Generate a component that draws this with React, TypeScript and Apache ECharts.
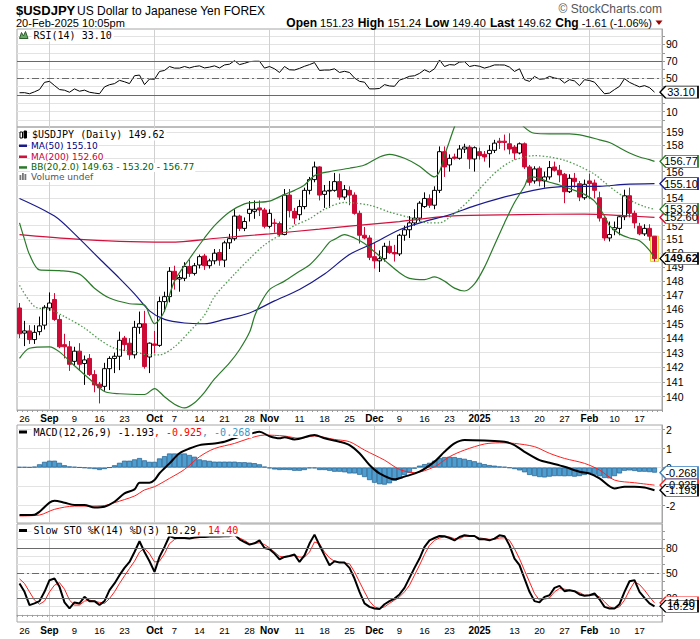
import React, { useEffect, useRef } from 'react';
import * as echarts from 'echarts';

// ---------- calendar ----------
const FIRST_DAY = '2024-08-23';
const LAST_DAY = '2025-02-20';
const HOLIDAYS = ['2024-12-25', '2025-01-01'];

// ---------- daily OHLC (USD/JPY) ----------
const opens = [146.1,144.35,144.5,143.9,144.45,144.9,146.1,146.7,145.3,143.55,143.4,142.4,143.1,142.25,142.6,141.5,140.85,140.7,141.9,142.6,142.75,144.0,143.65,142.85,144.75,145.0,142.7,143.6,143.5,146.55,146.9,148.7,148.15,148.2,149.05,148.55,149.15,149.8,149.1,149.45,150.05,149.5,150.75,151.05,152.7,151.8,152.9,153.05,153.3,153.15,151.95,152.2,152.15,151.35,154.25,153.05,152.8,153.4,154.6,155.4,156.35,154.3,154.55,154.6,155.25,154.1,154.6,154.25,152.9,151.3,151.1,149.75,149.45,149.6,150.5,150.05,149.95,151.3,151.7,152.2,152.55,153.4,154.0,153.5,154.6,157.5,156.5,157.1,157.0,157.7,157.85,156.95,157.5,157.3,157.35,157.6,158.3,158.3,158.1,157.85,157.4,158.1,156.35,155.3,156.25,155.3,155.6,156.35,156.1,155.8,154.5,155.5,155.1,154.05,155.3,155.15,154.05,152.55,151.1,151.7,151.8,152.65,154.2,152.9,151.95,151.4,151.8,151.23];
const highs = [146.45,145.2,144.9,144.9,145.5,146.3,147.2,147.15,145.6,144.3,143.8,143.4,143.65,142.8,142.9,141.8,141.0,142.3,142.75,143.0,144.45,144.15,144.0,145.2,145.85,145.9,143.7,144.5,146.9,147.25,149.0,149.1,148.45,149.35,149.55,149.3,149.9,149.95,149.6,150.3,150.3,150.9,151.4,153.2,152.8,152.6,153.8,153.85,153.85,153.3,153.2,152.5,152.3,154.7,154.7,153.3,153.9,154.8,155.6,156.75,156.4,155.0,155.3,155.9,155.85,155.0,154.9,154.45,153.1,151.9,151.3,150.75,150.2,150.75,150.9,150.6,151.4,152.0,152.7,153.2,153.8,154.45,154.3,154.9,157.9,157.9,157.3,157.35,158.0,158.1,158.0,157.9,157.8,157.55,158.0,158.4,158.55,158.8,158.9,158.0,158.2,158.2,156.5,156.4,156.4,156.0,156.8,156.75,156.5,155.9,155.8,155.9,155.3,155.4,155.85,155.4,154.5,152.6,152.3,152.3,152.7,154.65,154.8,153.1,152.2,152.1,152.1,151.24];
const lows = [144.0,143.45,143.6,143.6,144.2,144.6,145.9,145.2,143.3,142.6,141.75,142.1,141.75,140.8,141.4,140.3,139.55,140.4,140.45,141.6,141.8,143.1,142.5,142.6,144.3,141.9,141.6,142.95,143.4,145.85,146.5,147.4,147.25,148.0,148.3,148.4,148.9,148.8,148.9,149.2,149.1,149.0,150.3,150.9,151.6,151.6,152.3,152.5,152.7,151.8,151.8,151.5,151.2,151.3,152.6,152.1,152.4,153.2,154.3,155.2,153.85,153.3,153.3,154.5,153.9,153.9,153.5,152.8,150.7,151.0,149.5,148.9,148.65,149.4,149.95,149.4,149.8,150.9,151.1,152.0,152.3,153.3,153.3,153.2,154.4,155.6,156.0,156.9,156.9,157.4,156.2,156.0,156.9,156.75,156.3,157.4,157.7,157.6,157.3,156.9,157.3,156.2,154.95,155.1,154.9,154.8,155.4,156.0,155.2,153.65,154.4,154.8,153.8,153.9,153.95,154.0,152.3,150.9,150.85,151.3,151.3,152.4,152.6,151.8,151.3,151.25,150.9,149.40];
const closes = [144.3,144.5,143.9,144.4,144.85,146.15,146.45,145.3,143.4,143.4,142.2,143.1,142.2,142.5,141.5,140.8,140.6,141.9,142.6,142.75,143.85,143.55,142.85,144.75,145.0,142.05,143.65,143.5,146.55,146.9,148.7,148.1,148.25,149.05,148.55,149.1,149.75,149.1,149.45,150.0,149.5,150.75,151.05,152.7,151.8,152.3,153.2,153.2,153.15,151.95,152.9,152.15,151.35,154.25,153.1,152.55,153.4,154.6,155.4,156.35,154.25,154.55,154.6,155.25,154.1,154.65,154.25,152.9,151.3,151.1,149.7,149.45,149.6,150.5,150.05,149.95,151.3,151.7,152.2,152.55,153.65,154.0,153.5,154.6,157.5,156.35,157.0,157.0,157.7,157.85,156.95,157.8,157.2,157.1,157.6,158.15,158.2,158.2,157.7,157.4,158.1,156.35,155.2,156.2,155.3,155.6,156.3,156.1,155.75,154.5,155.5,155.25,154.1,155.05,155.1,154.6,152.55,151.1,151.35,151.85,152.65,154.2,152.9,152.2,151.4,151.8,151.23,149.62];

// ---------- overlays, read as [dayIndex, value] ----------
const ma50Pts = [[0,154.0],[7,152.7],[11,151.4],[16,149.6],[20,148.2],[23,147.1],[26,145.9],[29,145.3],[33,145.05],[37,145.0],[41,145.3],[46,145.75],[51,146.6],[56,147.4],[61,148.5],[66,149.9],[71,150.75],[76,151.7],[81,152.3],[86,152.8],[91,153.45],[96,154.0],[101,154.45],[106,154.8],[111,154.9],[116,154.9],[121,155.05],[127,155.1]];
const ma200Pts = [[0,151.35],[10,151.05],[20,150.85],[30,150.8],[40,151.1],[50,151.4],[60,151.75],[66,151.97],[76,152.3],[86,152.7],[100,152.8],[113,152.85],[120,152.75],[127,152.6]];
const bbUpperPts = [[0,152.2],[1,151.0],[2,149.9],[4,148.8],[8,148.75],[12,148.5],[15,147.5],[18,146.8],[22,146.4],[25,146.3],[26,145.6],[27,145.0],[28,145.3],[29,145.9],[31,148.0],[34,149.6],[37,151.1],[39,152.0],[42,153.0],[45,153.6],[47,153.7],[50,153.8],[53,154.3],[55,154.6],[57,155.0],[59,155.7],[62,156.0],[66,156.25],[69,156.5],[72,157.1],[74,157.3],[77,157.0],[80,156.4],[82,155.8],[83,155.6],[84,156.0],[85,157.2],[86,158.3],[87,159.4],[88,160.3],[90,161.3],[93,161.8],[96,161.5],[99,160.3],[101,159.35],[103,158.9],[106,158.85],[110,158.85],[113,158.7],[116,158.4],[118,158.2],[120,157.8],[122,157.4],[124,157.1],[126,156.9],[127,156.77]];
const bbMidPts = [[0,147.7],[3,146.2],[6,146.0],[9,145.5],[13,144.7],[16,143.9],[19,143.3],[23,143.05],[26,142.85],[28,142.85],[31,143.4],[34,144.45],[37,145.6],[39,146.9],[43,148.5],[46,149.6],[49,150.6],[52,151.3],[55,152.0],[58,152.5],[61,153.2],[65,153.7],[70,153.5],[74,153.0],[78,152.6],[82,152.2],[84,152.2],[86,152.6],[88,153.2],[90,153.9],[92,154.7],[94,155.5],[96,156.2],[98,156.7],[100,157.0],[103,157.2],[106,157.1],[109,156.85],[112,156.4],[115,155.8],[117,155.2],[119,154.6],[121,154.1],[123,153.7],[125,153.4],[127,153.2]];
const bbLowerPts = [[0,142.6],[2,143.3],[6,143.4],[8,143.05],[11,142.1],[14,141.2],[17,140.35],[20,140.2],[25,140.15],[27,140.55],[29,140.0],[31,139.5],[33,139.25],[35,139.6],[37,140.3],[39,141.2],[42,142.3],[44,143.2],[46,144.4],[47,145.5],[48,146.3],[50,147.4],[53,148.0],[56,148.7],[58,149.15],[60,149.9],[62,150.8],[63,151.0],[65,151.35],[67,151.1],[69,150.7],[71,150.1],[73,149.5],[76,148.6],[78,148.2],[81,148.1],[83,148.3],[85,148.0],[87,147.5],[89,147.3],[91,147.8],[93,149.0],[95,150.6],[97,152.2],[99,153.7],[101,154.9],[102,155.6],[104,155.5],[106,155.2],[108,155.0],[111,154.6],[113,154.3],[115,153.8],[117,152.7],[118,152.0],[120,151.4],[122,151.1],[124,150.9],[126,150.2],[127,149.63]];

// ---------- indicators ----------
const rsi14 = [32.4,32.5,31.2,33.5,36.2,44.8,46.0,41.0,36.2,35.4,33.0,37.0,34.2,35.5,33.0,32.0,31.2,39.4,42.0,43.3,47.2,45.5,43.3,52.7,53.5,42.1,48.8,48.5,57.8,59.0,63.7,61.8,61.8,63.7,62.0,63.7,64.5,62.0,63.0,64.5,62.0,65.6,66.5,70.7,66.0,67.5,69.5,70.0,70.0,61.8,63.7,61.0,56.6,63.7,59.8,59.5,61.5,64.0,66.0,68.4,59.0,59.5,59.5,61.0,56.6,58.0,56.6,50.0,46.0,45.0,37.0,37.0,37.5,42.1,40.5,40.1,47.5,49.5,52.0,52.7,55.5,59.8,57.0,61.0,71.5,63.7,66.0,65.5,69.0,69.5,63.7,65.0,64.0,61.8,63.5,65.6,65.6,65.5,63.0,57.8,61.0,48.0,46.0,51.9,48.5,49.0,51.9,50.0,49.0,44.1,48.0,46.5,40.9,48.0,47.0,45.0,38.0,31.2,32.0,36.2,40.0,49.2,44.8,42.0,39.4,40.9,38.5,33.1];
const macdPts = [[0,-2.5],[3,-2.48],[4,-2.33],[6,-1.85],[7,-1.75],[9,-1.85],[11,-1.97],[13,-1.97],[15,-2.1],[17,-2.06],[19,-1.8],[21,-1.36],[23,-1.15],[24,-0.8],[26,-0.8],[27,-0.66],[28,-0.3],[30,0.22],[32,0.75],[34,1.0],[36,1.18],[39,1.27],[41,1.36],[43,1.54],[46,1.76],[48,1.88],[50,1.65],[52,1.54],[53,1.6],[55,1.48],[59,1.71],[61,1.54],[64,1.36],[66,1.18],[68,0.75],[70,0.13],[72,-0.31],[75,-0.62],[77,-0.48],[80,-0.22],[83,0.31],[85,0.83],[87,1.27],[89,1.45],[93,1.42],[97,1.36],[99,1.18],[101,0.83],[104,0.39],[106,0.25],[109,0.04],[112,-0.22],[114,-0.31],[116,-0.57],[119,-1.1],[121,-1.01],[123,-1.01],[125,-1.05],[127,-1.193]];
const signalPts = [[0,-2.55],[4,-2.5],[7,-2.2],[11,-2.03],[14,-2.03],[17,-2.0],[19,-1.85],[23,-1.5],[25,-1.18],[27,-1.01],[30,-0.57],[33,-0.1],[36,0.57],[39,1.0],[43,1.27],[46,1.54],[49,1.71],[53,1.66],[56,1.54],[59,1.66],[63,1.48],[66,1.36],[69,0.92],[73,0.39],[76,-0.1],[79,-0.27],[83,0.04],[86,0.57],[89,0.92],[93,1.24],[96,1.3],[99,1.27],[103,1.1],[106,0.75],[109,0.48],[113,0.22],[116,-0.13],[119,-0.66],[123,-0.8],[127,-0.925]];
const macdHist = [0.03,0.03,0.02,0.05,0.17,0.30,0.36,0.36,0.25,0.12,0.06,0.04,0.01,-0.02,-0.05,-0.08,-0.13,-0.08,0.00,0.12,0.25,0.36,0.36,0.43,0.50,0.38,0.30,0.30,0.48,0.60,0.74,0.74,0.74,0.74,0.66,0.57,0.43,0.38,0.35,0.31,0.31,0.31,0.31,0.31,0.28,0.28,0.26,0.23,0.17,0.05,-0.04,-0.10,-0.13,-0.12,-0.13,-0.17,-0.17,-0.13,-0.04,-0.04,-0.13,-0.13,-0.17,-0.22,-0.22,-0.25,-0.31,-0.31,-0.38,-0.50,-0.66,-0.80,-0.88,-0.90,-0.83,-0.70,-0.55,-0.40,-0.28,-0.06,0.10,0.18,0.25,0.36,0.50,0.55,0.57,0.55,0.50,0.46,0.39,0.33,0.25,0.18,0.13,0.10,0.06,0.04,-0.02,-0.08,-0.15,-0.25,-0.39,-0.45,-0.50,-0.52,-0.48,-0.45,-0.45,-0.46,-0.45,-0.48,-0.45,-0.39,-0.31,-0.38,-0.46,-0.55,-0.57,-0.45,-0.31,-0.17,-0.15,-0.18,-0.22,-0.22,-0.24,-0.268];
const stoK = [37.5,27.5,11.7,13.7,16.4,27.5,41.4,43.4,33.5,14.9,7.7,14.9,13.7,21.5,16.4,16.4,11.7,16.4,29.5,37.5,47.4,56.1,63.2,75.1,87.9,75.1,64.0,51.3,69.2,81.1,94.2,91.8,91.8,91.8,91.3,92.5,93.0,93.0,93.5,93.5,93.5,94.0,94.0,95.8,90.2,87.0,83.9,85.5,89.0,79.9,78.3,73.2,66.4,69.2,70.4,72.0,63.2,71.0,85.1,95.8,83.1,71.0,59.3,64.0,62.4,62.4,56.1,43.4,27.5,13.7,9.6,7.7,6.9,12.7,16.4,19.5,24.4,32.3,44.2,56.1,67.2,81.1,89.0,91.8,94.2,93.8,91.8,89.0,93.0,95.0,94.2,94.2,90.2,90.2,89.0,91.0,95.0,94.0,83.0,67.2,59.3,43.4,27.5,16.4,14.9,21.5,23.4,32.3,34.6,28.3,29.5,28.3,24.4,22.9,23.4,25.5,18.7,9.6,7.7,7.7,12.7,27.5,40.2,41.4,27.5,20.3,13.7,10.29];
const stoD = [43.0,37.5,27.5,17.6,12.7,16.4,27.5,35.5,38.5,30.7,17.6,11.7,11.7,16.4,17.6,16.4,14.9,13.7,19.5,27.5,37.5,46.6,55.4,64.0,75.0,79.5,73.0,63.2,64.0,73.0,85.0,90.0,92.5,92.0,91.6,92.0,92.3,92.8,93.2,93.3,93.5,93.7,93.8,94.6,91.8,89.0,85.0,85.5,86.0,84.0,80.0,75.0,70.0,69.0,70.0,71.0,69.0,69.0,75.0,87.0,85.0,75.0,68.0,64.0,63.0,62.0,61.0,51.3,39.4,27.5,16.4,9.6,7.7,9.6,13.7,17.6,21.5,27.5,35.5,47.4,59.3,72.0,83.0,89.0,91.8,93.0,93.0,91.0,91.0,93.8,94.0,94.0,92.0,91.0,90.2,90.2,91.8,92.0,89.0,79.0,67.0,53.0,39.4,25.5,17.6,18.7,20.3,27.5,31.5,30.7,29.5,28.3,26.7,23.4,23.4,23.4,21.5,15.7,9.6,7.7,9.6,17.6,29.5,39.4,36.2,29.5,21.5,14.4];

// ---------- axis ticks ----------
const xTickDates = ['2024-08-26','2024-09-02','2024-09-09','2024-09-16','2024-09-23','2024-10-01','2024-10-07','2024-10-14','2024-10-21','2024-10-28','2024-11-01','2024-11-11','2024-11-18','2024-11-25','2024-12-02','2024-12-09','2024-12-16','2024-12-23','2025-01-02','2025-01-13','2025-01-20','2025-01-27','2025-02-03','2025-02-10','2025-02-17'];
const xTickTexts = ['26','Sep','9','16','23','Oct','7','14','21','28','Nov','11','18','25','Dec','9','16','23','2025','13','20','27','Feb','10','17'];
const boldTickTexts = ['Sep','Oct','Nov','Dec','2025','Feb'];
const monthStartDates = ['2024-09-02','2024-10-01','2024-11-01','2024-12-02','2025-01-02','2025-02-03'];
const priceTicks = [140,141,142,143,144,145,146,147,148,149,150,151,152,153,154,155,156,157,158,159];
// price labels the value tags cover (153, 155, 157) are not drawn
const priceLabels = [140,141,142,143,144,145,146,147,148,149,150,151,152,154,156,158,159];
const oscTicks = [0,10,20,30,40,50,60,70,80,90,100];
const rsiLabels = [10,50,70,90];
const stoLabels = [20,50,80];
const macdTicks = [-2,-1,0,1,2];
const macdLabels = [-2,0,1,2];

const ARIAL = '"Liberation Sans", Arial, sans-serif';
const MONO = '"DejaVu Sans Mono", monospace';
const VERD = '"DejaVu Sans", Verdana, sans-serif';

const C_UP_BORDER = '#000000';
const C_DOWN = '#cc0a35';
const C_MA50 = '#1a1a8c';
const C_MA200 = '#d1103c';
const C_BB = '#2a7a2a';
const C_BBMID = '#4f9a4f';
const C_HIST = '#4c9dd0';
const C_HIST_B = '#1f5f8f';
const C_GRID = '#e3e3e3';
const C_VGRID = '#d0d0d0';
const C_BORDER = '#a6a6a6';

function tradingDays(start: string, end: string): string[] {
  const out: string[] = [];
  const d = new Date(start + 'T00:00:00Z');
  const e = new Date(end + 'T00:00:00Z');
  while (d.getTime() <= e.getTime()) {
    const wd = d.getUTCDay();
    const s = d.toISOString().slice(0, 10);
    if (wd !== 0 && wd !== 6 && HOLIDAYS.indexOf(s) < 0) out.push(s);
    d.setUTCDate(d.getUTCDate() + 1);
  }
  return out;
}

const TAG_PATH = 'path://M0,6 L6,0 L40,0 L40,12 L6,12 Z';
function tag(i: number, v: number, text: string, border: string, bold = false) {
  return {
    silent: true,
    symbol: TAG_PATH,
    symbolSize: [38, 12],
    symbolOffset: [24.5, 0],
    symbolKeepAspect: false,
    itemStyle: { color: '#ffffff', borderColor: border, borderWidth: 1 },
    label: {
      show: true, position: 'inside', formatter: text, color: '#000',
      fontSize: 11, fontFamily: ARIAL, fontWeight: bold ? 'bold' : 'normal', offset: [2, 0],
    },
    data: [{ coord: [i, v] }],
  };
}

function lineSeries(gi: number, data: any[], color: string, width: number, extra: any = {}) {
  return {
    type: 'line', xAxisIndex: gi, yAxisIndex: gi, data, symbol: 'none', showSymbol: false,
    lineStyle: { color, width }, itemStyle: { color }, silent: true, ...extra,
  };
}

function buildOption() {
  const days = tradingDays(FIRST_DAY, LAST_DAY);
  const cats = [...days, ' '];
  const last = days.length - 1;
  const labelMap = new Map<string, string>();
  xTickDates.forEach((d, i) => labelMap.set(d, xTickTexts[i]));
  const monthSet = new Set(monthStartDates);
  const boldSet = new Set(boldTickTexts);

  const gridDefs = [
    { top: 29, height: 98 },
    { top: 127, height: 283 },
    { top: 425, height: 98 },
    { top: 524, height: 98 },
  ];
  const grid = gridDefs.map((g) => ({ left: 17, right: 38, ...g, show: true, borderColor: C_BORDER, borderWidth: 1 }));

  const xAxis = [0, 1, 2, 3].map((gi) => {
    const withLabels = gi === 1 || gi === 3;
    return {
      type: 'category', gridIndex: gi, data: cats, boundaryGap: true,
      axisLine: { show: withLabels, lineStyle: { color: C_BORDER } },
      axisTick: withLabels ? { show: true, interval: 0, length: 2, lineStyle: { color: '#9a9a9a' } } : { show: false },
      axisLabel: withLabels ? {
        show: true,
        interval: (_i: number, v: string) => labelMap.has(v),
        formatter: (v: string) => {
          const t = labelMap.get(v) || '';
          return boldSet.has(t) ? `{b|${t}}` : t;
        },
        fontSize: 9.5, fontFamily: ARIAL, color: '#000', margin: 3,
        rich: { b: { fontWeight: 'bold', fontSize: 10, fontFamily: ARIAL, color: '#000' } },
      } : { show: false },
      splitLine: {
        show: true, interval: (_i: number, v: string) => monthSet.has(v), alignWithLabel: true,
        lineStyle: { color: C_VGRID, width: 1 },
      },
    };
  });

  const yCommon = (gi: number, ticks: number[], labels: number[]) => ({
    gridIndex: gi, position: 'right', scale: false,
    axisLine: { show: true, lineStyle: { color: C_BORDER } },
    axisTick: { show: true, length: 3, customValues: ticks, lineStyle: { color: '#9a9a9a' } },
    axisLabel: { show: true, customValues: labels, fontSize: 10.5, fontFamily: ARIAL, color: '#000', margin: 4 },
    splitLine: { show: true, lineStyle: { color: C_GRID, width: 1 } },
  });

  const yAxis = [
    { type: 'value', min: -8.5, max: 108.5, ...yCommon(0, oscTicks, rsiLabels) },
    { type: 'log', logBase: 10, min: 139.11, max: 159.38, ...yCommon(1, priceTicks, priceLabels) },
    { type: 'value', min: -2.92, max: 2.24, ...yCommon(2, macdTicks, macdLabels) },
    { type: 'value', min: -8.5, max: 108.5, ...yCommon(3, oscTicks, stoLabels) },
  ];

  const ohlc = opens.map((o, i) => [o, closes[i], lows[i], highs[i]]);
  const highlight = opens.map((_o, i) => (i === last ? [highs[i], lows[i], lows[i], highs[i]] : ['-', '-', '-', '-']));
  const lastOf = (pts: number[][]) => pts[pts.length - 1][1];

  const refLines = (hi: number, lo: number) => ({
    silent: true, symbol: 'none', label: { show: false },
    lineStyle: { color: '#6a6a6a', width: 1, type: 'solid' },
    data: [
      { yAxis: hi },
      { yAxis: lo },
      { yAxis: 50, lineStyle: { color: '#6a6a6a', width: 1, type: [7, 3, 2, 3] } },
    ],
  });

  const series: any[] = [
    // RSI
    lineSeries(0, rsi14, '#000', 1, {
      markLine: refLines(70, 30),
      markPoint: tag(last, rsi14[last], rsi14[last].toFixed(2), '#000'),
    }),
    // price panel
    {
      type: 'candlestick', xAxisIndex: 1, yAxisIndex: 1, data: highlight, barWidth: 8, silent: true, z: 1,
      itemStyle: { color: '#ffff70', color0: '#ffff70', borderColor: '#e0d040', borderColor0: '#e0d040', borderWidth: 1 },
    },
    lineSeries(1, ma200Pts, C_MA200, 1.2, { smooth: 0.3, markPoint: tag(last, lastOf(ma200Pts), lastOf(ma200Pts).toFixed(2), C_MA200) }),
    lineSeries(1, ma50Pts, C_MA50, 1.2, { smooth: 0.3, markPoint: tag(last, lastOf(ma50Pts), lastOf(ma50Pts).toFixed(2), C_MA50) }),
    lineSeries(1, bbLowerPts, C_BB, 1.2, { smooth: 0.3 }),
    lineSeries(1, bbMidPts, C_BBMID, 1.3, { smooth: 0.3, lineStyle: { color: C_BBMID, width: 1.3, type: [1.5, 2] }, markPoint: tag(last, lastOf(bbMidPts), lastOf(bbMidPts).toFixed(2), C_BB) }),
    lineSeries(1, bbUpperPts, C_BB, 1.2, { smooth: 0.3, markPoint: tag(last, lastOf(bbUpperPts), lastOf(bbUpperPts).toFixed(2), C_BB) }),
    {
      type: 'candlestick', xAxisIndex: 1, yAxisIndex: 1, data: ohlc, barWidth: 4, silent: true,
      itemStyle: { color: '#ffffff', color0: C_DOWN, borderColor: C_UP_BORDER, borderColor0: C_DOWN, borderWidth: 1 },
      markPoint: tag(last, closes[last], closes[last].toFixed(2), '#000', true),
    },
    // MACD
    {
      type: 'bar', xAxisIndex: 2, yAxisIndex: 2, data: macdHist, barWidth: '100%', silent: true,
      itemStyle: { color: C_HIST, borderColor: C_HIST_B, borderWidth: 0.7 },
      markPoint: tag(last, macdHist[last], macdHist[last].toFixed(3), '#3a7fc0'),
    },
    lineSeries(2, signalPts, '#ff2020', 1, { smooth: 0.3, markPoint: tag(last, lastOf(signalPts), lastOf(signalPts).toFixed(3), '#ff2020') }),
    lineSeries(2, macdPts, '#000', 2, { smooth: 0.3, markPoint: tag(last, lastOf(macdPts), lastOf(macdPts).toFixed(3), '#000') }),
    // Slow STO
    lineSeries(3, stoD, '#ff2020', 1, { markLine: refLines(80, 20), markPoint: tag(last, stoD[last], stoD[last].toFixed(2), '#ff2020') }),
    lineSeries(3, stoK, '#000', 2, { markPoint: tag(last, stoK[last], stoK[last].toFixed(2), '#000') }),
  ];

  const T = (x: number, y: number, text: string, font: string, fill = '#000', extra: any = {}) => ({
    type: 'text', x, y, z: 100, silent: true,
    style: { text, font, fill, verticalAlign: 'middle', textVerticalAlign: 'middle', ...extra },
  });
  const R = (x: number, y: number, w: number, h: number, fill: string, stroke?: string) => ({
    type: 'rect', z: 100, silent: true, shape: { x, y, width: w, height: h },
    style: { fill, stroke: stroke || null, lineWidth: 1 },
  });

  const prevClose = closes[last - 1];
  const chg = closes[last] - prevClose;
  const chgPct = (chg / prevClose) * 100;
  const f2 = (v: number) => v.toFixed(2);
  const bbText = `BB(20,2.0) ${f2(lastOf(bbLowerPts))} - ${f2(lastOf(bbMidPts))} - ${f2(lastOf(bbUpperPts))}`;

  const graphic: any[] = [
    T(16, 10.5, '$USDJPY', 'bold 13px "Liberation Sans"'),
    T(77, 10.5, 'US Dollar to Japanese Yen FOREX', '12px "Liberation Sans"'),
    T(16, 23, '20-Feb-2025 10:05pm', '11px "Liberation Sans"'),
    T(662, 8.5, '\u00A9 StockCharts.com', '12px "Liberation Sans"', '#555', { align: 'right' }),
    {
      type: 'text', x: 652, y: 23, z: 100, silent: true,
      style: {
        text: `{b|Open} ${f2(opens[last])} {b|High} ${f2(highs[last])} {b|Low} ${f2(lows[last])} {b|Last} ${f2(closes[last])} {b|Chg} ${f2(chg)} (${f2(chgPct)}%)`,
        font: '11px "Liberation Sans"', fill: '#000', align: 'right', verticalAlign: 'middle', textVerticalAlign: 'middle',
        rich: { b: { font: 'bold 12px "Liberation Sans"', fill: '#000', padding: [0, 0, 0, 1] } },
      },
    },
    { type: 'polygon', z: 100, silent: true, shape: { points: [[655.5, 20.5], [662.5, 20.5], [659, 25]] }, style: { fill: '#a00000' } },

    // RSI legend
    { type: 'polygon', z: 100, silent: true, shape: { points: [[19.5, 38.5], [21.5, 32.5], [23.5, 36], [25.5, 31.5], [28, 38.5]] }, style: { fill: '#6aa86a', stroke: '#2d5d2d', lineWidth: 1 } },
    T(31.5, 35.5, `RSI(14) ${f2(rsi14[last])}`, `10px ${MONO}`, '#000', { backgroundColor: '#fff', padding: [1, 2] }),

    // price legend
    R(20, 132, 2.5, 6, '#fff', '#000'),
    R(24, 131, 2.5, 7, '#000', '#000'),
    T(30, 134.5, `$USDJPY (Daily) ${f2(closes[last])}`, `10px ${MONO}`, '#000', { backgroundColor: '#fff', padding: [1, 2] }),
    R(19, 144.5, 8, 2.5, C_MA50),
    T(30, 145.8, `MA(50) ${f2(lastOf(ma50Pts))}`, `9px ${VERD}`, '#000080', { backgroundColor: '#fff', padding: [0, 1] }),
    R(19, 155.5, 8, 2.5, C_MA200),
    T(30, 156.8, `MA(200) ${f2(lastOf(ma200Pts))}`, `9px ${VERD}`, '#cc0033', { backgroundColor: '#fff', padding: [0, 1] }),
    R(19, 166.2, 8, 2.5, C_BB),
    T(30, 167.4, bbText, `9px ${VERD}`, '#006400', { backgroundColor: '#fff', padding: [0, 1] }),
    R(19.5, 175, 1.8, 5, '#777'), R(22, 173, 1.8, 7, '#777'), R(24.5, 174, 1.8, 6, '#777'),
    T(30, 177.4, 'Volume undef', `9px ${VERD}`, '#555', { backgroundColor: '#fff', padding: [0, 1] }),

    // MACD legend
    R(19, 430.5, 8, 3, '#000'),
    {
      type: 'text', x: 31.5, y: 432, z: 100, silent: true,
      style: {
        text: `{k|MACD(12,26,9) ${lastOf(macdPts).toFixed(3)}}{r|, ${lastOf(signalPts).toFixed(3)}}{h|, ${macdHist[last].toFixed(3)}}`,
        font: `10px ${MONO}`, verticalAlign: 'middle', textVerticalAlign: 'middle', backgroundColor: '#fff', padding: [1, 2],
        rich: { k: { fill: '#000', font: `10px ${MONO}` }, r: { fill: '#ff0000', font: `10px ${MONO}` }, h: { fill: '#3399cc', font: `10px ${MONO}` } },
      },
    },

    // STO legend
    R(19, 529, 8, 3, '#000'),
    {
      type: 'text', x: 31.5, y: 530.5, z: 100, silent: true,
      style: {
        text: `{k|Slow STO %K(14) %D(3) ${f2(stoK[last])}}{r|, ${f2(stoD[last])}}`,
        font: `10px ${MONO}`, verticalAlign: 'middle', textVerticalAlign: 'middle', backgroundColor: '#fff', padding: [1, 2],
        rich: { k: { fill: '#000', font: `10px ${MONO}` }, r: { fill: '#ff0000', font: `10px ${MONO}` } },
      },
    },
  ];

  return {
    animation: false,
    backgroundColor: '#ffffff',
    grid, xAxis, yAxis, series, graphic,
  };
}

export default function App() {
  const ref = useRef<HTMLDivElement>(null);
  useEffect(() => {
    if (!ref.current) return;
    const chart = echarts.init(ref.current, undefined, { renderer: 'svg' });
    chart.setOption(buildOption() as any);
    return () => chart.dispose();
  }, []);
  return (
    <div
      ref={ref}
      style={{ position: 'fixed', left: 0, top: 0, width: 700, height: 639, background: '#fff' }}
    />
  );
}
